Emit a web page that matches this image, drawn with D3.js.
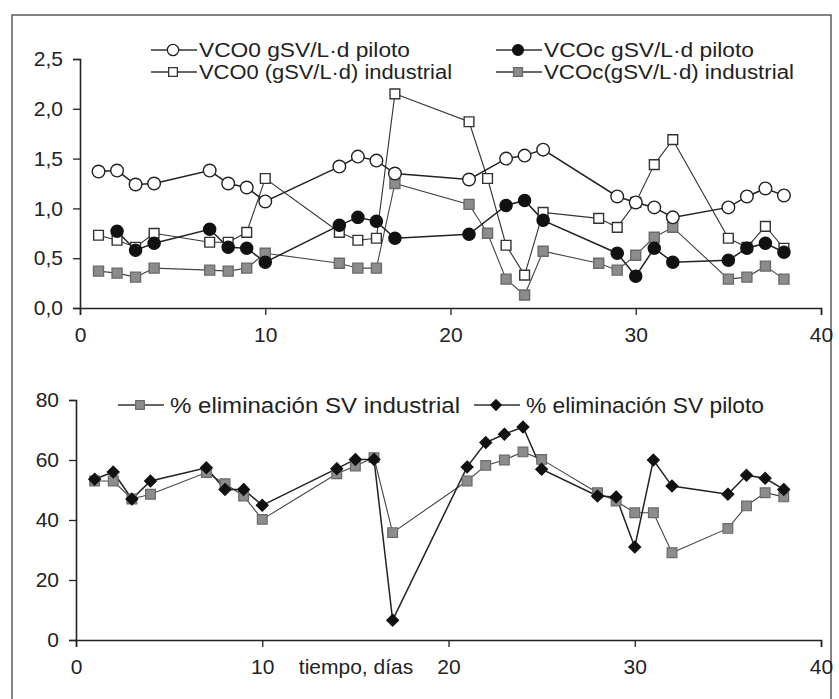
<!DOCTYPE html>
<html><head><meta charset="utf-8">
<script src="https://cdn.jsdelivr.net/npm/d3@7"></script>
<style>body{margin:0;background:#fff}svg{display:block}text{font-family:"Liberation Sans",Arial,sans-serif;fill:#222}</style>
</head><body><svg id="c" width="839" height="699"></svg>
<script>
// ---- data ----
const daysInd = [1,2,3,4,7,8,9,10,14,15,16,17,21,22,23,24,25,28,29,30,31,32,35,36,37,38];
const daysPil = [1,2,3,4,7,8,9,10,14,15,16,17,21,23,24,25,29,30,31,32,35,36,37,38];
const daysPilC = [2,3,4,7,8,9,10,14,15,16,17,21,23,24,25,29,30,31,32,35,36,37,38];
const vco0Piloto = [1.37,1.38,1.24,1.25,1.38,1.25,1.21,1.07,1.42,1.52,1.48,1.35,1.29,1.50,1.53,1.59,1.12,1.06,1.01,0.91,1.01,1.12,1.20,1.13];
const vcocPiloto = [0.77,0.58,0.65,0.79,0.61,0.60,0.46,0.83,0.91,0.87,0.70,0.74,1.03,1.08,0.88,0.55,0.32,0.60,0.46,0.48,0.60,0.65,0.56];
const vco0Ind = [0.73,0.68,0.61,0.75,0.66,0.66,0.76,1.30,0.76,0.68,0.70,2.15,1.87,1.30,0.63,0.33,0.96,0.90,0.81,1.06,1.44,1.69,0.70,0.61,0.82,0.60];
const vcocInd = [0.37,0.35,0.31,0.40,0.38,0.37,0.40,0.55,0.45,0.40,0.40,1.25,1.04,0.75,0.29,0.13,0.57,0.45,0.38,0.53,0.71,0.81,0.29,0.31,0.42,0.29];
const daysElim = [1,2,3,4,7,8,9,10,14,15,16,17,21,22,23,24,25,28,29,30,31,32,35,36,37,38];
const elimInd = [53,53,47,48.6,55.8,52.1,48,40.2,55.4,58,60.8,35.8,53,58.2,60,62.7,60.2,49.1,46.3,42.4,42.4,29.1,37.2,44.7,49.1,47.7];
const elimPil = [53.6,56,47,53,57.4,50.2,50.2,44.9,57.1,60.2,60.2,6.6,57.7,65.8,68.6,71,56.9,48,47.7,31,60,51.3,48.6,54.9,53.9,50.2];
const topYTicks = [0,0.5,1,1.5,2,2.5];
const botYTicks = [0,20,40,60,80];
const xTicks = [0,10,20,30,40];
const topLegend = ["VCO0 gSV/L·d piloto","VCOc gSV/L·d piloto","VCO0 (gSV/L·d) industrial","VCOc(gSV/L·d) industrial"];
const botLegend = ["% eliminación SV industrial","% eliminación SV piloto"];

const svg = d3.select("#c");
svg.append("rect").attr("x",12).attr("y",15).attr("width",819).attr("height",700)
  .attr("fill","none").attr("stroke","#333").attr("stroke-width",1.2);

const fmt = d => d3.format(".1f")(d).replace(".",",");

// ---- top chart ----
const xT = d3.scaleLinear().domain([0,40]).range([80,821]);
const yT = d3.scaleLinear().domain([0,2.5]).range([308,59]);
const gT = svg.append("g");
gT.append("g").attr("transform","translate(80,0)")
  .call(d3.axisLeft(yT).tickValues(topYTicks).tickFormat(fmt).tickSize(7).tickPadding(10));
gT.append("g").attr("transform","translate(0,308)")
  .call(d3.axisBottom(xT).tickValues(xTicks).tickSize(7).tickPadding(12));
gT.selectAll(".domain").attr("stroke","#222").attr("stroke-width",1.6);
gT.selectAll(".tick line").attr("stroke","#222").attr("stroke-width",1.3);
gT.selectAll(".tick text").attr("font-size",21).attr("fill","#222").style("font-family","'Liberation Sans',Arial,sans-serif");

const diamond = {draw(ctx,size){const r=Math.sqrt(size/2);ctx.moveTo(0,-r);ctx.lineTo(r,0);ctx.lineTo(0,r);ctx.lineTo(-r,0);ctx.closePath();}};
const sym = (type,size) => d3.symbol().type(type).size(size)();
const series = [
  {days:daysInd, vals:vco0Ind, type:d3.symbolSquare, size:95, fill:"#fff", stroke:"#333", lw:1.1, lc:"#333"},
  {days:daysInd, vals:vcocInd, type:d3.symbolSquare, size:100, fill:"#8c8c8c", stroke:"#6a6a6a", lw:1.1, lc:"#444"},
  {days:daysPilC, vals:vcocPiloto, type:d3.symbolCircle, size:115, fill:"#111", stroke:"#111", lw:1.5, lc:"#222"},
  {days:daysPil, vals:vco0Piloto, type:d3.symbolCircle, size:125, fill:"#fff", stroke:"#222", lw:1.5, lc:"#222"}
];
const lineT = d3.line().x(d=>xT(d[0])).y(d=>yT(d[1]));
series.forEach(s=>{
  const pts = s.days.map((d,i)=>[d,s.vals[i]]);
  gT.append("path").attr("d",lineT(pts)).attr("fill","none").attr("stroke",s.lc).attr("stroke-width",s.lw);
});
series.forEach(s=>{
  const pts = s.days.map((d,i)=>[d,s.vals[i]]);
  gT.selectAll(null).data(pts).enter().append("path")
    .attr("d",sym(s.type,s.size)).attr("transform",d=>`translate(${xT(d[0])},${yT(d[1])})`)
    .attr("fill",s.fill).attr("stroke",s.stroke).attr("stroke-width",1.4);
});

// top legend
const legT = [
  {x:151, y:50, s:series[3], t:topLegend[0], w:211},
  {x:496, y:50, s:series[2], t:topLegend[1], w:210},
  {x:151, y:72, s:series[0], t:topLegend[2], w:253},
  {x:496, y:72, s:series[1], t:topLegend[3], w:250}
];
legT.forEach(l=>{
  svg.append("line").attr("x1",l.x).attr("x2",l.x+46).attr("y1",l.y).attr("y2",l.y).attr("stroke","#333").attr("stroke-width",1.3);
  svg.append("path").attr("d",sym(l.s.type,l.s.size*0.8)).attr("transform",`translate(${l.x+22},${l.y})`)
    .attr("fill",l.s.fill).attr("stroke",l.s.stroke).attr("stroke-width",1.3);
  svg.append("text").attr("x",l.x+48).attr("y",l.y+7).attr("font-size",20)
    .attr("textLength",l.w).attr("lengthAdjust","spacingAndGlyphs").text(l.t);
});

// ---- bottom chart ----
const xB = d3.scaleLinear().domain([0,40]).range([76,821]);
const yB = d3.scaleLinear().domain([0,80]).range([640,400]);
const gB = svg.append("g");
gB.append("g").attr("transform","translate(76,0)")
  .call(d3.axisLeft(yB).tickValues(botYTicks).tickSize(7).tickPadding(10));
gB.append("g").attr("transform","translate(0,640)")
  .call(d3.axisBottom(xB).tickValues(xTicks).tickSize(7).tickPadding(12));
gB.selectAll(".domain").attr("stroke","#222").attr("stroke-width",1.6);
gB.selectAll(".tick line").attr("stroke","#222").attr("stroke-width",1.3);
gB.selectAll(".tick text").attr("font-size",21).attr("fill","#222").style("font-family","'Liberation Sans',Arial,sans-serif");
svg.append("text").attr("x",356).attr("y",674).attr("font-size",21).attr("text-anchor","middle").text("tiempo, días");

const lineB = d3.line().x(d=>xB(d[0])).y(d=>yB(d[1]));
const bSeries = [
  {vals:elimInd, type:d3.symbolSquare, size:95, fill:"#8c8c8c", stroke:"#6a6a6a", lc:"#444", lw:1.1},
  {vals:elimPil, type:diamond, size:70, fill:"#111", stroke:"#111", lc:"#222", lw:1.5}
];
bSeries.forEach(s=>{
  const pts = daysElim.map((d,i)=>[d,s.vals[i]]);
  gB.append("path").attr("d",lineB(pts)).attr("fill","none").attr("stroke",s.lc).attr("stroke-width",s.lw);
});
bSeries.forEach(s=>{
  const pts = daysElim.map((d,i)=>[d,s.vals[i]]);
  gB.selectAll(null).data(pts).enter().append("path")
    .attr("d",sym(s.type,s.size)).attr("transform",d=>`translate(${xB(d[0])},${yB(d[1])})`)
    .attr("fill",s.fill).attr("stroke",s.stroke).attr("stroke-width",1.2);
});
const legB = [
  {x:118, y:405, s:bSeries[0], t:botLegend[0], w:290},
  {x:474, y:405, s:bSeries[1], t:botLegend[1], w:238}
];
legB.forEach(l=>{
  svg.append("line").attr("x1",l.x).attr("x2",l.x+46).attr("y1",l.y).attr("y2",l.y).attr("stroke","#333").attr("stroke-width",1.3);
  svg.append("path").attr("d",sym(l.s.type,l.s.size*0.8)).attr("transform",`translate(${l.x+22},${l.y})`)
    .attr("fill",l.s.fill).attr("stroke",l.s.stroke).attr("stroke-width",1.2);
  svg.append("text").attr("x",l.x+52).attr("y",l.y+8).attr("font-size",22)
    .attr("textLength",l.w).attr("lengthAdjust","spacingAndGlyphs").text(l.t);
});
</script></body></html>
